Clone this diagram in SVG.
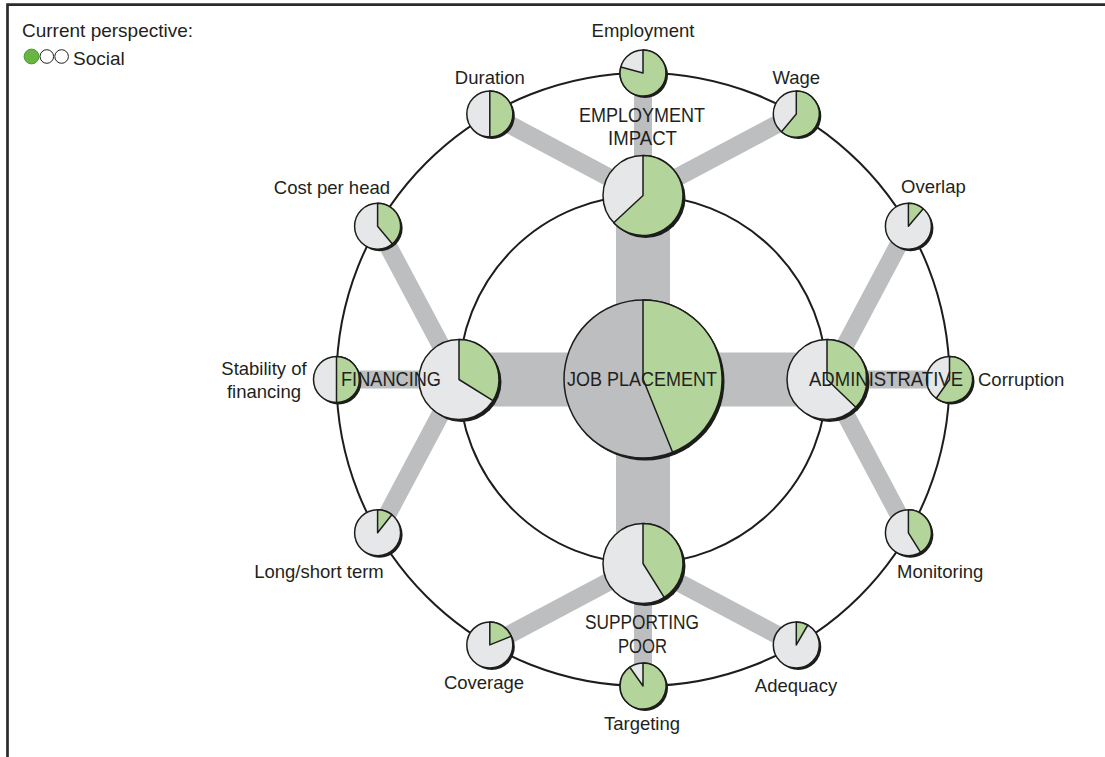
<svg xmlns="http://www.w3.org/2000/svg" width="1105" height="757" viewBox="0 0 1105 757">
<style>
.frame{fill:none;stroke:#2b2b2b;stroke-width:2.7}
.ring{fill:none;stroke:#1d1d1b;stroke-width:2}
.bar{stroke:#bcbec0;stroke-width:18;stroke-linecap:butt;fill:none}
.wide{fill:#bcbec0}
.sh{fill:#1d1d1b}
.base{fill:#e6e7e8;stroke:#1d1d1b;stroke-width:1.5}
.core{fill:#bcbec0;stroke:#1d1d1b;stroke-width:1.5}
.grn{fill:#b3d59b;stroke:#1d1d1b;stroke-width:1.5;stroke-linejoin:round}
.lbl{font-family:"Liberation Sans",Arial,sans-serif;font-size:18.5px;fill:#231f20}
.big{font-family:"Liberation Sans",Arial,sans-serif;font-size:20.5px;fill:#231f20;text-anchor:middle}
.mid{text-anchor:middle}
.end{text-anchor:end}
</style>

<path class="frame" d="M7.5,757 V4.7 H1105"/>

<g id="legend">
<text class="lbl" x="22" y="37" style="font-size:19px">Current perspective:</text>
<circle cx="31.5" cy="56.5" r="7.4" fill="#69b544" stroke="#4d9a32" stroke-width="1"/>
<circle cx="46.8" cy="56.5" r="6.8" fill="#fff" stroke="#231f20" stroke-width="1"/>
<circle cx="61.6" cy="56.5" r="6.8" fill="#fff" stroke="#231f20" stroke-width="1"/>
<text class="lbl" x="73" y="65" style="font-size:19px">Social</text>
</g>

<g id="rings">
<circle class="ring" cx="643" cy="379.5" r="184"/>
<circle class="ring" cx="643" cy="379.5" r="306.5"/>
</g>

<g id="connectors">
<rect class="wide" x="459" y="352.5" width="368" height="54"/>
<rect class="wide" x="616" y="195.5" width="54" height="368"/>
<line class="bar" x1="643" y1="195.5" x2="489.8" y2="114.1"/>
<line class="bar" x1="643" y1="195.5" x2="643" y2="73"/>
<line class="bar" x1="643" y1="195.5" x2="796.3" y2="114.1"/>
<line class="bar" x1="827" y1="379.5" x2="908.4" y2="226.3"/>
<line class="bar" x1="827" y1="379.5" x2="949.5" y2="379.5"/>
<line class="bar" x1="827" y1="379.5" x2="908.4" y2="532.8"/>
<line class="bar" x1="643" y1="563.5" x2="796.3" y2="644.9"/>
<line class="bar" x1="643" y1="563.5" x2="643" y2="686"/>
<line class="bar" x1="643" y1="563.5" x2="489.8" y2="644.9"/>
<line class="bar" x1="459" y1="379.5" x2="377.6" y2="532.8"/>
<line class="bar" x1="459" y1="379.5" x2="336.5" y2="379.5"/>
<line class="bar" x1="459" y1="379.5" x2="377.6" y2="226.3"/>
</g>

<g id="employment">
<circle class="sh" cx="645" cy="75" r="23"/><circle class="base" cx="643" cy="73" r="23"/>
<path class="grn" d="M643,73 V50 A23,23 0 1 1 620.78,67.05 Z"/>
<text class="lbl mid" x="643" y="37">Employment</text>
</g>
<g id="wage">
<circle class="sh" cx="798.3" cy="116.1" r="23"/><circle class="base" cx="796.3" cy="114.1" r="23"/>
<path class="grn" d="M796.3,114.1 V91.1 A23,23 0 1 1 781.5,131.7 Z"/>
<text class="lbl mid" x="796.3" y="84">Wage</text>
</g>
<g id="overlap">
<circle class="sh" cx="910.4" cy="228.3" r="23"/><circle class="base" cx="908.4" cy="226.3" r="23"/>
<path class="grn" d="M908.4,226.3 V203.3 A23,23 0 0 1 923.2,208.7 Z"/>
<text class="lbl" x="901" y="193">Overlap</text>
</g>
<g id="corruption">
<circle class="sh" cx="951.5" cy="381.5" r="23"/><circle class="base" cx="949.5" cy="379.5" r="23"/>
<path class="grn" d="M949.5,379.5 V356.5 A23,23 0 1 1 936.3,398.3 Z"/>
<text class="lbl" x="978" y="386">Corruption</text>
</g>
<g id="monitoring">
<circle class="sh" cx="910.4" cy="534.8" r="23"/><circle class="base" cx="908.4" cy="532.8" r="23"/>
<path class="grn" d="M908.4,532.8 V509.8 A23,23 0 0 1 920.6,552.3 Z"/>
<text class="lbl" x="897" y="578">Monitoring</text>
</g>
<g id="adequacy">
<circle class="sh" cx="798.3" cy="646.9" r="23"/><circle class="base" cx="796.3" cy="644.9" r="23"/>
<path class="grn" d="M796.3,644.9 V621.9 A23,23 0 0 1 807.8,625.0 Z"/>
<text class="lbl mid" x="796" y="692">Adequacy</text>
</g>
<g id="targeting">
<circle class="sh" cx="645" cy="688" r="23"/><circle class="base" cx="643" cy="686" r="23"/>
<path class="grn" d="M643,686 V663 A23,23 0 1 1 629.8,667.2 Z"/>
<text class="lbl mid" x="642" y="730">Targeting</text>
</g>
<g id="coverage">
<circle class="sh" cx="491.8" cy="646.9" r="23"/><circle class="base" cx="489.8" cy="644.9" r="23"/>
<path class="grn" d="M489.8,644.9 V621.9 A23,23 0 0 1 511.1,636.3 Z"/>
<text class="lbl mid" x="484" y="689">Coverage</text>
</g>
<g id="long-short-term">
<circle class="sh" cx="379.6" cy="534.8" r="23"/><circle class="base" cx="377.6" cy="532.8" r="23"/>
<path class="grn" d="M377.6,532.8 V509.8 A23,23 0 0 1 391.8,514.7 Z"/>
<text class="lbl mid" x="319" y="578">Long/short term</text>
</g>
<g id="stability-of-financing">
<circle class="sh" cx="338.5" cy="381.5" r="23"/><circle class="base" cx="336.5" cy="379.5" r="23"/>
<path class="grn" d="M336.5,379.5 V356.5 A23,23 0 0 1 336.5,402.5 Z"/>
<text class="lbl mid" x="264" y="375">Stability of</text>
<text class="lbl mid" x="264" y="398">financing</text>
</g>
<g id="cost-per-head">
<circle class="sh" cx="379.6" cy="228.3" r="23"/><circle class="base" cx="377.6" cy="226.3" r="23"/>
<path class="grn" d="M377.6,226.3 V203.3 A23,23 0 0 1 392.4,243.9 Z"/>
<text class="lbl end" x="390" y="194">Cost per head</text>
</g>
<g id="duration">
<circle class="sh" cx="491.8" cy="116.1" r="23"/><circle class="base" cx="489.8" cy="114.1" r="23"/>
<path class="grn" d="M489.8,114.1 V91.1 A23,23 0 0 1 489.8,137.1 Z"/>
<text class="lbl mid" x="489.8" y="84">Duration</text>
</g>

<g id="employment-impact">
<circle class="sh" cx="645.5" cy="198" r="40"/><circle class="base" cx="643" cy="195.5" r="40"/>
<path class="grn" d="M643,195.5 V155.5 A40,40 0 1 1 613.74,222.78 Z"/>
<text class="big" x="642" y="122" textLength="126" lengthAdjust="spacingAndGlyphs">EMPLOYMENT</text>
<text class="big" x="642.5" y="145" textLength="69" lengthAdjust="spacingAndGlyphs">IMPACT</text>
</g>
<g id="financing">
<circle class="sh" cx="461.5" cy="382" r="40"/><circle class="base" cx="459" cy="379.5" r="40"/>
<path class="grn" d="M459,379.5 V339.5 A40,40 0 0 1 492.92,400.70 Z"/>
<text class="big" x="391" y="386" textLength="100" lengthAdjust="spacingAndGlyphs">FINANCING</text>
</g>
<g id="administrative">
<circle class="sh" cx="829.5" cy="382" r="40"/><circle class="base" cx="827" cy="379.5" r="40"/>
<path class="grn" d="M827,379.5 V339.5 A40,40 0 0 1 855.77,407.29 Z"/>
<text class="big" x="886" y="386" textLength="154" lengthAdjust="spacingAndGlyphs">ADMINISTRATIVE</text>
</g>
<g id="supporting-poor">
<circle class="sh" cx="645.5" cy="566" r="40"/><circle class="base" cx="643" cy="563.5" r="40"/>
<path class="grn" d="M643,563.5 V523.5 A40,40 0 0 1 664.20,597.42 Z"/>
<text class="big" x="642" y="629" textLength="114" lengthAdjust="spacingAndGlyphs">SUPPORTING</text>
<text class="big" x="642.5" y="653" textLength="49" lengthAdjust="spacingAndGlyphs">POOR</text>
</g>

<g id="job-placement">
<circle class="sh" cx="645.5" cy="381.5" r="79"/><circle class="core" cx="643" cy="379" r="79"/>
<path class="grn" d="M643,379 V300 A79,79 0 0 1 672.59,452.25 Z"/>
<text class="big" x="642" y="386" textLength="150" lengthAdjust="spacingAndGlyphs">JOB PLACEMENT</text>
</g>
</svg>
